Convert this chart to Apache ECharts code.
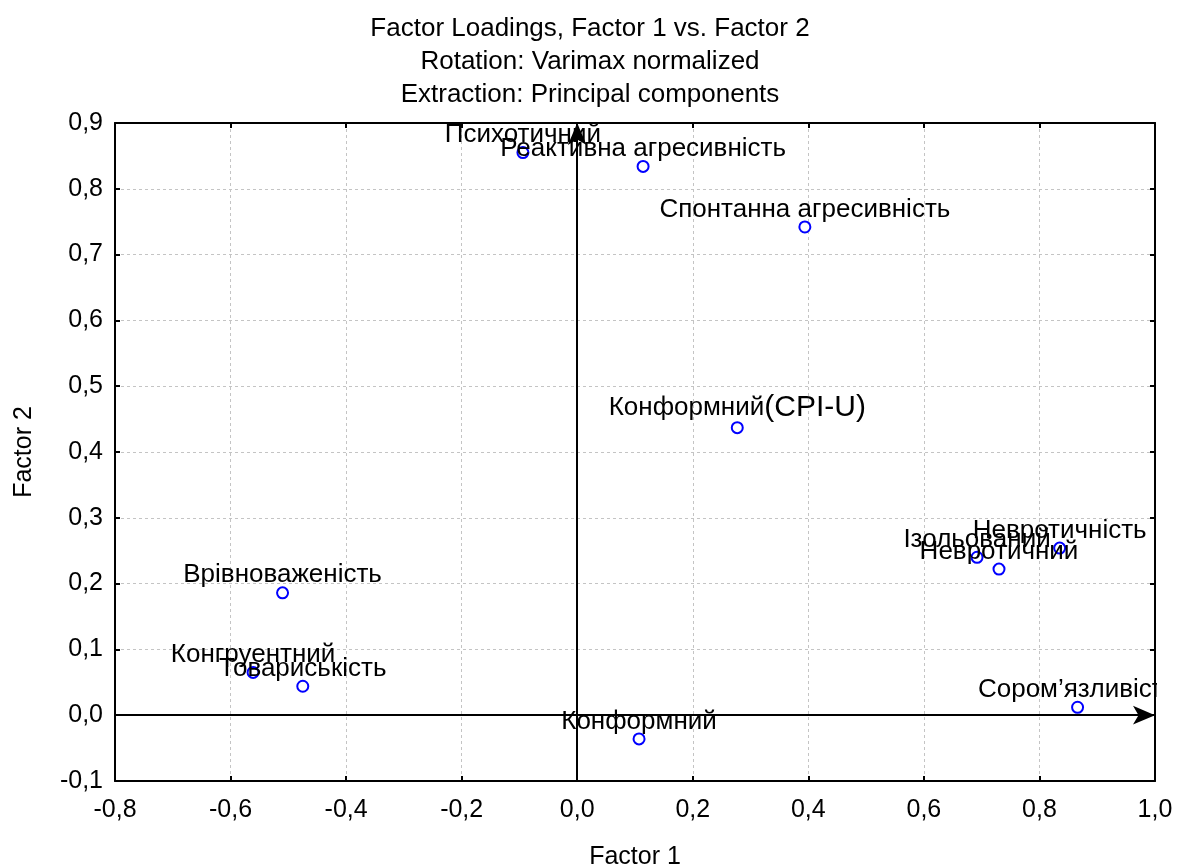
<!DOCTYPE html>
<html>
<head>
<meta charset="utf-8">
<script src="https://cdn.jsdelivr.net/npm/echarts@6/dist/echarts.min.js"></script>
<style>html,body{margin:0;padding:0;background:#fff;}#c{width:1180px;height:868px;}</style>
</head>
<body>
<div id="c"></div>
<script>
const titleLines = ['Factor Loadings, Factor 1 vs. Factor 2', 'Rotation: Varimax normalized', 'Extraction: Principal components'];
const names = ['Психотичний', 'Реактивна агресивність', 'Спонтанна агресивність', 'Конформний(CPI-U)', 'Невротичність', 'Ізольований', 'Невротичний', 'Врівноваженість', 'Конгруентний', 'Товариськість', 'Сором’язливість', 'Конформний'];
const factor1 = [-0.094, 0.114, 0.394, 0.277, 0.835, 0.692, 0.730, -0.510, -0.561, -0.475, 0.866, 0.107];
const factor2 = [0.855, 0.834, 0.742, 0.437, 0.254, 0.240, 0.222, 0.186, 0.065, 0.044, 0.012, -0.036];
const xRange = [-0.8, 1.0, 0.2];
const yRange = [-0.1, 0.9, 0.1];

const FONT = 'Liberation Sans, Arial, sans-serif';
const fmt = v => v.toFixed(1).replace('.', ',');
const data = names.map((n, i) => [factor1[i], factor2[i], n]);

const chart = echarts.init(document.getElementById('c'));
const axisCommon = {
  type: 'value',
  axisLine: { show: true, onZero: false, lineStyle: { color: '#000', width: 2 } },
  axisTick: { show: true, inside: true, length: 5, lineStyle: { color: '#000', width: 2 } },
  splitLine: { show: false }
};
const gridLine = { show: true, lineStyle: { color: '#c4c4c4', type: [3, 3], width: 1 } };
chart.setOption({
  animation: false,
  backgroundColor: '#fff',
  textStyle: { fontFamily: FONT },
  title: {
    text: titleLines.join('\n'),
    left: 'center', top: 7,
    textStyle: { fontFamily: FONT, fontSize: 26, fontWeight: 'normal', color: '#000', lineHeight: 33 }
  },
  grid: { left: 115, right: 25, top: 123, bottom: 87, outerBoundsMode: 'none', containLabel: false },
  xAxis: [
    Object.assign({}, axisCommon, {
      min: xRange[0], max: xRange[1], interval: xRange[2], position: 'bottom',
      name: 'Factor 1', nameLocation: 'middle', nameGap: 64,
      nameTextStyle: { fontFamily: FONT, fontSize: 25, color: '#000' },
      axisLabel: { fontFamily: FONT, fontSize: 25, color: '#000', margin: 17, formatter: fmt },
      splitLine: gridLine
    }),
    Object.assign({}, axisCommon, {
      min: xRange[0], max: xRange[1], interval: xRange[2], position: 'top',
      axisLabel: { show: false }
    })
  ],
  yAxis: [
    Object.assign({}, axisCommon, {
      min: yRange[0], max: yRange[1], interval: yRange[2], position: 'left',
      name: 'Factor 2', nameLocation: 'middle', nameGap: 78, nameRotate: 90,
      nameTextStyle: { fontFamily: FONT, fontSize: 25, color: '#000' },
      axisLabel: { fontFamily: FONT, fontSize: 25, color: '#000', margin: 12, formatter: fmt },
      splitLine: gridLine
    }),
    Object.assign({}, axisCommon, {
      min: yRange[0], max: yRange[1], interval: yRange[2], position: 'right',
      axisLabel: { show: false }
    })
  ],
  series: [{
    type: 'scatter',
    data: data,
    symbol: 'emptyCircle',
    symbolSize: 11,
    itemStyle: { color: '#0000ff', borderColor: '#0000ff', borderWidth: 2, opacity: 1 },
    label: {
      show: true, position: 'top', distance: -2,
      fontFamily: FONT, fontSize: 26, color: '#000',
      formatter: p => {
        const n = p.data[2];
        const k = n.indexOf('(');
        return k > 0 ? '{a|' + n.slice(0, k) + '}{b|' + n.slice(k) + '}' : '{a|' + n + '}';
      },
      rich: {
        a: { fontFamily: FONT, fontSize: 26, color: '#000' },
        b: { fontFamily: FONT, fontSize: 30, color: '#000' }
      }
    },
    markLine: {
      silent: true,
      symbol: ['none', 'arrow'],
      symbolSize: [14, 22],
      label: { show: false },
      lineStyle: { color: '#000', width: 2, type: 'solid', opacity: 1 },
      data: [
        [{ coord: [xRange[0], 0] }, { coord: [xRange[1], 0] }],
        [{ coord: [0, yRange[0]] }, { coord: [0, yRange[1]] }]
      ]
    },
    z: 3
  }],
  graphic: [{
    type: 'rect', left: 1157, top: 124, z: 100,
    shape: { width: 30, height: 656 },
    style: { fill: '#fff' }, silent: true
  }]
});
</script>
</body>
</html>
